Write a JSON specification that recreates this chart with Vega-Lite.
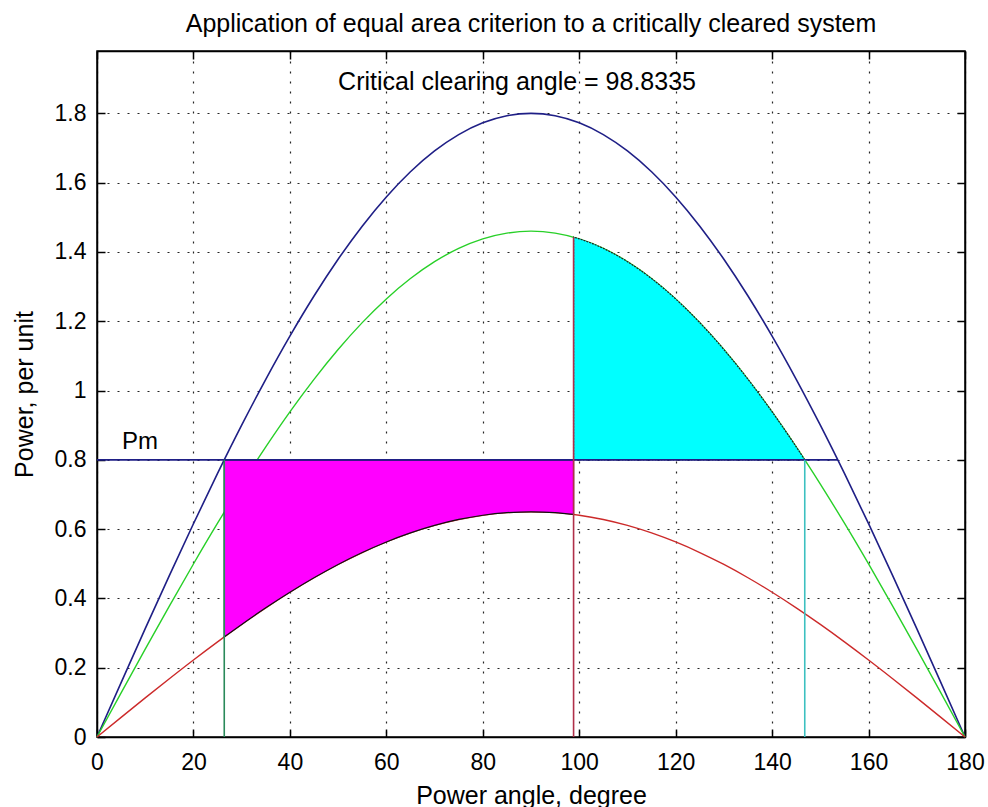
{
  "$schema": "https://vega.github.io/schema/vega-lite/v6.json",
  "autosize": "none",
  "width": 868,
  "height": 686,
  "padding": {"left": 97, "top": 51, "right": 23, "bottom": 70},
  "background": "white",
  "title": {"text": "Application of equal area criterion to a critically cleared system", "font": "Liberation Sans", "fontSize": 25, "fontWeight": "normal", "color": "#000", "anchor": "middle", "offset": 13},
  "config": {
    "view": {"stroke": "#000", "strokeWidth": 1.5},
    "font": "Liberation Sans"
  },
  "datasets": {
    "curves": [
      {"d": 0, "pre": 0, "post": 0, "during": 0},
      {"d": 5, "pre": 0.1569, "post": 0.1273, "during": 0.0567},
      {"d": 10, "pre": 0.3126, "post": 0.2535, "during": 0.1129},
      {"d": 15, "pre": 0.4659, "post": 0.3779, "during": 0.1682},
      {"d": 20, "pre": 0.6156, "post": 0.4994, "during": 0.2223},
      {"d": 25, "pre": 0.7607, "post": 0.617, "during": 0.2747},
      {"d": 30, "pre": 0.9, "post": 0.73, "during": 0.325},
      {"d": 35, "pre": 1.0324, "post": 0.8374, "during": 0.3728},
      {"d": 40, "pre": 1.157, "post": 0.9385, "during": 0.4178},
      {"d": 45, "pre": 1.2728, "post": 1.0324, "during": 0.4596},
      {"d": 50, "pre": 1.3789, "post": 1.1184, "during": 0.4979},
      {"d": 55, "pre": 1.4745, "post": 1.196, "during": 0.5324},
      {"d": 60, "pre": 1.5588, "post": 1.2644, "during": 0.5629},
      {"d": 65, "pre": 1.6314, "post": 1.3232, "during": 0.5891},
      {"d": 70, "pre": 1.6914, "post": 1.3719, "during": 0.6108},
      {"d": 75, "pre": 1.7387, "post": 1.4103, "during": 0.6279},
      {"d": 80, "pre": 1.7727, "post": 1.4378, "during": 0.6401},
      {"d": 85, "pre": 1.7931, "post": 1.4544, "during": 0.6475},
      {"d": 90, "pre": 1.8, "post": 1.46, "during": 0.65},
      {"d": 95, "pre": 1.7931, "post": 1.4544, "during": 0.6475},
      {"d": 100, "pre": 1.7727, "post": 1.4378, "during": 0.6401},
      {"d": 105, "pre": 1.7387, "post": 1.4103, "during": 0.6279},
      {"d": 110, "pre": 1.6914, "post": 1.3719, "during": 0.6108},
      {"d": 115, "pre": 1.6314, "post": 1.3232, "during": 0.5891},
      {"d": 120, "pre": 1.5588, "post": 1.2644, "during": 0.5629},
      {"d": 125, "pre": 1.4745, "post": 1.196, "during": 0.5324},
      {"d": 130, "pre": 1.3789, "post": 1.1184, "during": 0.4979},
      {"d": 135, "pre": 1.2728, "post": 1.0324, "during": 0.4596},
      {"d": 140, "pre": 1.157, "post": 0.9385, "during": 0.4178},
      {"d": 145, "pre": 1.0324, "post": 0.8374, "during": 0.3728},
      {"d": 150, "pre": 0.9, "post": 0.73, "during": 0.325},
      {"d": 155, "pre": 0.7607, "post": 0.617, "during": 0.2747},
      {"d": 160, "pre": 0.6156, "post": 0.4994, "during": 0.2223},
      {"d": 165, "pre": 0.4659, "post": 0.3779, "during": 0.1682},
      {"d": 170, "pre": 0.3126, "post": 0.2535, "during": 0.1129},
      {"d": 175, "pre": 0.1569, "post": 0.1273, "during": 0.0567},
      {"d": 180, "pre": 0, "post": 0, "during": 0}
    ],
    "accel": [
      {"d": 26.39, "lo": 0.2889, "hi": 0.8},
      {"d": 30, "lo": 0.325, "hi": 0.8},
      {"d": 35, "lo": 0.3728, "hi": 0.8},
      {"d": 40, "lo": 0.4178, "hi": 0.8},
      {"d": 45, "lo": 0.4596, "hi": 0.8},
      {"d": 50, "lo": 0.4979, "hi": 0.8},
      {"d": 55, "lo": 0.5324, "hi": 0.8},
      {"d": 60, "lo": 0.5629, "hi": 0.8},
      {"d": 65, "lo": 0.5891, "hi": 0.8},
      {"d": 70, "lo": 0.6108, "hi": 0.8},
      {"d": 75, "lo": 0.6279, "hi": 0.8},
      {"d": 80, "lo": 0.6401, "hi": 0.8},
      {"d": 85, "lo": 0.6475, "hi": 0.8},
      {"d": 90, "lo": 0.65, "hi": 0.8},
      {"d": 95, "lo": 0.6475, "hi": 0.8},
      {"d": 98.83, "lo": 0.6423, "hi": 0.8}
    ],
    "decel": [
      {"d": 98.83, "lo": 0.8, "hi": 1.4427},
      {"d": 100, "lo": 0.8, "hi": 1.4378},
      {"d": 105, "lo": 0.8, "hi": 1.4103},
      {"d": 110, "lo": 0.8, "hi": 1.3719},
      {"d": 115, "lo": 0.8, "hi": 1.3232},
      {"d": 120, "lo": 0.8, "hi": 1.2644},
      {"d": 125, "lo": 0.8, "hi": 1.196},
      {"d": 130, "lo": 0.8, "hi": 1.1184},
      {"d": 135, "lo": 0.8, "hi": 1.0324},
      {"d": 140, "lo": 0.8, "hi": 0.9385},
      {"d": 145, "lo": 0.8, "hi": 0.8374},
      {"d": 146.77, "lo": 0.8, "hi": 0.8}
    ],
    "pm": [
      {"d": 0, "p": 0.8},
      {"d": 153.61, "p": 0.8}
    ],
    "verticals": [
      {"d": 26.39, "y0": 0, "y1": 0.8, "k": "delta0"},
      {"d": 98.83, "y0": 0, "y1": 1.4427, "k": "deltac"},
      {"d": 146.77, "y0": 0, "y1": 0.8, "k": "deltamax"}
    ],
    "labels": [
      {"d": 50, "p": 1.89, "t": "Critical clearing angle = 98.8335", "s": 25},
      {"d": 5.2, "p": 0.851, "t": "Pm", "s": 24}
    ]
  },
  "resolve": {"axis": {"x": "independent", "y": "independent"}},
  "layer": [
    {
      "data": {"name": "curves"},
      "mark": {"type": "line", "color": "#1f1f86", "strokeWidth": 1.6, "interpolate": "monotone"},
      "encoding": {
        "x": {"field": "d", "type": "quantitative", "scale": {"domain": [0, 180], "nice": false},
          "axis": {"values": [0, 20, 40, 60, 80, 100, 120, 140, 160, 180], "title": "Power angle, degree", "titleFont": "Liberation Sans", "titleFontSize": 25, "titleFontWeight": "normal", "titleColor": "#000", "titlePadding": 9,
            "labelFont": "Liberation Sans", "labelFontSize": 23, "labelColor": "#000", "labelPadding": 22, "labelFlush": false,
            "tickSize": -8, "tickColor": "#000", "tickWidth": 1.5, "domainColor": "#000", "domainWidth": 1.5,
            "grid": true, "gridColor": "#000", "gridDash": [2, 8], "gridWidth": 1.2, "gridOpacity": 0.85}},
        "y": {"field": "pre", "type": "quantitative", "scale": {"domain": [0, 1.98], "nice": false, "zero": true},
          "axis": {"values": [0, 0.2, 0.4, 0.6, 0.8, 1, 1.2, 1.4, 1.6, 1.8], "format": "~g", "title": "Power, per unit", "titleFont": "Liberation Sans", "titleFontSize": 25, "titleFontWeight": "normal", "titleColor": "#000", "titlePadding": 17,
            "labelFont": "Liberation Sans", "labelFontSize": 23, "labelColor": "#000", "labelPadding": 19, "labelFlush": false,
            "tickSize": -8, "tickColor": "#000", "tickWidth": 1.5, "domainColor": "#000", "domainWidth": 1.5,
            "grid": true, "gridColor": "#000", "gridDash": [2, 8], "gridWidth": 1.2, "gridOpacity": 0.85}}
      }
    },
    {
      "data": {"name": "curves"},
      "mark": {"type": "line", "color": "#28d028", "strokeWidth": 1.4, "interpolate": "monotone"},
      "encoding": {
        "x": {"field": "d", "type": "quantitative",
          "axis": {"orient": "top", "values": [0, 20, 40, 60, 80, 100, 120, 140, 160, 180], "labels": false, "title": null, "grid": false, "tickSize": -8, "tickColor": "#000", "tickWidth": 1.5, "domainColor": "#000", "domainWidth": 1.5}},
        "y": {"field": "post", "type": "quantitative",
          "axis": {"orient": "right", "values": [0, 0.2, 0.4, 0.6, 0.8, 1, 1.2, 1.4, 1.6, 1.8], "labels": false, "title": null, "grid": false, "tickSize": -8, "tickColor": "#000", "tickWidth": 1.5, "domainColor": "#000", "domainWidth": 1.5}}
      }
    },
    {
      "data": {"name": "curves"},
      "mark": {"type": "line", "color": "#cc2a2a", "strokeWidth": 1.4, "interpolate": "monotone"},
      "encoding": {
        "x": {"field": "d", "type": "quantitative", "axis": null},
        "y": {"field": "during", "type": "quantitative", "axis": null}
      }
    },
    {
      "data": {"name": "accel"},
      "mark": {"type": "area", "color": "#ff00ff", "opacity": 1, "interpolate": "monotone", "stroke": "#111", "strokeWidth": 1.2},
      "encoding": {
        "x": {"field": "d", "type": "quantitative", "axis": null},
        "y": {"field": "lo", "type": "quantitative", "axis": null},
        "y2": {"field": "hi"}
      }
    },
    {
      "data": {"name": "decel"},
      "mark": {"type": "area", "color": "#00ffff", "opacity": 1, "interpolate": "monotone", "stroke": "#222", "strokeWidth": 1.2, "strokeDash": [2, 1]},
      "encoding": {
        "x": {"field": "d", "type": "quantitative", "axis": null},
        "y": {"field": "lo", "type": "quantitative", "axis": null},
        "y2": {"field": "hi"}
      }
    },
    {
      "data": {"name": "pm"},
      "mark": {"type": "line", "color": "#1f1f86", "strokeWidth": 1.6},
      "encoding": {
        "x": {"field": "d", "type": "quantitative", "axis": null},
        "y": {"field": "p", "type": "quantitative", "axis": null}
      }
    },
    {
      "data": {"name": "verticals"},
      "mark": {"type": "rule", "strokeWidth": 1.6},
      "encoding": {
        "x": {"field": "d", "type": "quantitative", "axis": null},
        "y": {"field": "y0", "type": "quantitative", "axis": null},
        "y2": {"field": "y1"},
        "color": {"field": "k", "type": "nominal", "scale": {"domain": ["delta0", "deltac", "deltamax"], "range": ["#2a8a5a", "#b0304a", "#3cc0c0"]}, "legend": null}
      }
    },
    {
      "data": {"name": "labels"},
      "mark": {"type": "text", "align": "left", "baseline": "middle", "font": "Liberation Sans", "color": "#000"},
      "encoding": {
        "x": {"field": "d", "type": "quantitative", "axis": null},
        "y": {"field": "p", "type": "quantitative", "axis": null},
        "text": {"field": "t"},
        "size": {"field": "s", "type": "quantitative", "scale": null}
      }
    }
  ]
}
